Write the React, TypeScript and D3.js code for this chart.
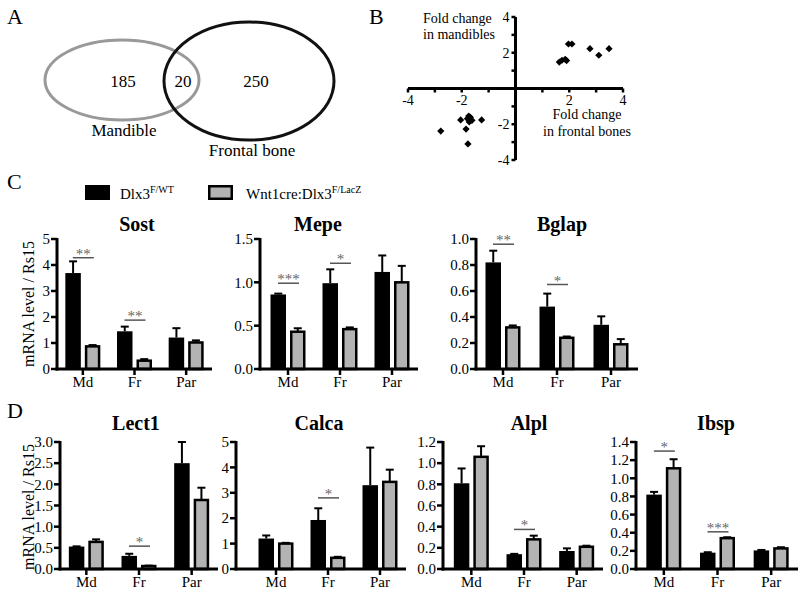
import React from "react";
import * as d3 from "d3";

const groups = ["Md", "Fr", "Par"];

// panel A venn counts
const vennCounts = [185, 20, 250];
const vennLabels = ["Mandible", "Frontal bone"];

// panel B fold changes [frontal, mandible]
const upPoints = [
  [1.63, 1.48], [1.73, 1.58], [1.85, 1.63], [1.9, 1.56], [1.97, 2.49],
  [2.1, 2.49], [2.77, 2.23], [3.1, 1.86], [3.48, 2.23],
];
const downPoints = [
  [-2.78, -2.38], [-2.04, -1.76], [-1.84, -2.27], [-1.77, -3.1], [-1.74, -1.54],
  [-1.79, -1.69], [-1.68, -1.61], [-1.62, -1.78], [-1.72, -1.87], [-1.26, -1.76],
];
const foldTicks = [-4, -2, 2, 4];

// panel C
const sostWT = [3.69, 1.45, 1.21];
const sostWTErr = [0.45, 0.18, 0.36];
const sostKO = [0.87, 0.32, 1.02];
const sostKOErr = [0.05, 0.06, 0.08];
const sostSig = [{ g: "Md", y: 4.28, s: "**" }, { g: "Fr", y: 1.88, s: "**" }];

const mepeWT = [0.86, 0.99, 1.12];
const mepeWTErr = [0.01, 0.16, 0.19];
const mepeKO = [0.43, 0.46, 1.0];
const mepeKOErr = [0.04, 0.02, 0.19];
const mepeSig = [{ g: "Md", y: 0.99, s: "***" }, { g: "Fr", y: 1.22, s: "*" }];

const bglapWT = [0.82, 0.48, 0.34];
const bglapWTErr = [0.09, 0.1, 0.065];
const bglapKO = [0.32, 0.24, 0.19];
const bglapKOErr = [0.015, 0.01, 0.04];
const bglapSig = [{ g: "Md", y: 0.96, s: "**" }, { g: "Fr", y: 0.65, s: "*" }];

// panel D
const lect1WT = [0.53, 0.31, 2.5];
const lect1WTErr = [0.005, 0.05, 0.5];
const lect1KO = [0.64, 0.07, 1.63];
const lect1KOErr = [0.06, 0.01, 0.29];
const lect1Sig = [{ g: "Fr", y: 0.54, s: "*" }];

const calcaWT = [1.2, 1.93, 3.3];
const calcaWTErr = [0.12, 0.46, 1.48];
const calcaKO = [1.0, 0.44, 3.43];
const calcaKOErr = [0.03, 0.04, 0.48];
const calcaSig = [{ g: "Fr", y: 2.8, s: "*" }];

const alplWT = [0.81, 0.14, 0.17];
const alplWTErr = [0.14, 0.003, 0.025];
const alplKO = [1.06, 0.28, 0.21];
const alplKOErr = [0.1, 0.035, 0.01];
const alplSig = [{ g: "Fr", y: 0.374, s: "*" }];

const ibspWT = [0.82, 0.18, 0.205];
const ibspWTErr = [0.03, 0.005, 0.005];
const ibspKO = [1.11, 0.34, 0.227];
const ibspKOErr = [0.1, 0.01, 0.013];
const ibspSig = [{ g: "Md", y: 1.3, s: "*" }, { g: "Fr", y: 0.41, s: "***" }];

const FONT = "'Liberation Serif', 'Times New Roman', serif";
const GRAY = "#b3b3b3";

const panels = [
  { title: "Sost", wt: sostWT, wtErr: sostWTErr, ko: sostKO, koErr: sostKOErr, sig: sostSig,
    max: 5, step: 1, fmt: d3.format("d"), left: 57, bandLeft: 57, right: 212, top: 239, bottom: 369, titleX: 137, titleY: 231 },
  { title: "Mepe", wt: mepeWT, wtErr: mepeWTErr, ko: mepeKO, koErr: mepeKOErr, sig: mepeSig,
    max: 1.5, step: 0.5, fmt: d3.format(".1f"), left: 260, bandLeft: 262, right: 418, top: 239, bottom: 369, titleX: 318, titleY: 231 },
  { title: "Bglap", wt: bglapWT, wtErr: bglapWTErr, ko: bglapKO, koErr: bglapKOErr, sig: bglapSig,
    max: 1.0, step: 0.2, fmt: d3.format(".1f"), left: 476, bandLeft: 476, right: 638, top: 239, bottom: 369, titleX: 562, titleY: 231 },
  { title: "Lect1", wt: lect1WT, wtErr: lect1WTErr, ko: lect1KO, koErr: lect1KOErr, sig: lect1Sig,
    max: 3.0, step: 0.5, fmt: d3.format(".1f"), left: 60, bandLeft: 60, right: 218, top: 442, bottom: 569, titleX: 136, titleY: 430 },
  { title: "Calca", wt: calcaWT, wtErr: calcaWTErr, ko: calcaKO, koErr: calcaKOErr, sig: calcaSig,
    max: 5, step: 1, fmt: d3.format("d"), left: 236, bandLeft: 250, right: 406, top: 442, bottom: 569, titleX: 319, titleY: 430 },
  { title: "Alpl", wt: alplWT, wtErr: alplWTErr, ko: alplKO, koErr: alplKOErr, sig: alplSig,
    max: 1.2, step: 0.2, fmt: d3.format(".1f"), left: 443, bandLeft: 445, right: 603, top: 442, bottom: 569, titleX: 529, titleY: 430 },
  { title: "Ibsp", wt: ibspWT, wtErr: ibspWTErr, ko: ibspKO, koErr: ibspKOErr, sig: ibspSig,
    max: 1.4, step: 0.2, fmt: d3.format(".1f"), left: 636, bandLeft: 637, right: 798, top: 442, bottom: 569, titleX: 716, titleY: 430 },
];

const BarPanel = ({ p }: any) => {
  const x = d3.scaleBand().domain(groups).range([p.bandLeft, p.right]);
  const y = d3.scaleLinear().domain([0, p.max]).range([p.bottom, p.top]);
  const ticks = d3.range(0, p.max + p.step / 2, p.step);
  const bw = 15.5;
  const gap = 4;
  const sw = 2.5;
  const c = (g: string) => (x(g) as number) + x.bandwidth() / 2;

  const errBar = (cx: number, v: number, e: number, key: string) => (
    <g key={key} stroke="#000" strokeWidth={2}>
      <line x1={cx} x2={cx} y1={y(v)} y2={y(v + e)} />
      <line x1={cx - 4} x2={cx + 4} y1={y(v + e)} y2={y(v + e)} />
    </g>
  );

  return (
    <g fontFamily={FONT}>
      <text x={p.titleX} y={p.titleY} textAnchor="middle" fontWeight="bold" fontSize={20}>{p.title}</text>
      {groups.map((g, i) => {
        const cx = c(g);
        const bx = cx - gap / 2 - bw;
        const gx = cx + gap / 2;
        return (
          <g key={g}>
            {errBar(bx + bw / 2, p.wt[i], p.wtErr[i], "we")}
            {errBar(gx + bw / 2, p.ko[i], p.koErr[i], "ke")}
            <rect x={bx} y={y(p.wt[i])} width={bw} height={y(0) - y(p.wt[i])} fill="#000" />
            <rect x={gx + sw / 2} y={y(p.ko[i])} width={bw - sw} height={y(0) - y(p.ko[i])}
              fill={GRAY} stroke="#000" strokeWidth={sw} />
          </g>
        );
      })}
      {p.sig.map((s: any, i: number) => {
        const cx = c(s.g);
        return (
          <g key={i} fill="#666" stroke="#555">
            <line x1={cx - 10} x2={cx + 11} y1={y(s.y)} y2={y(s.y)} strokeWidth={1.5} />
            <text x={cx + 0.5} y={y(s.y) + 1} textAnchor="middle" fontSize={15} stroke="none">{s.s}</text>
          </g>
        );
      })}
      <line x1={p.left} x2={p.left} y1={y(p.max) - 1} y2={y(0) + 1.5} stroke="#000" strokeWidth={3} />
      <line x1={p.left - 1.5} x2={p.right} y1={y(0)} y2={y(0)} stroke="#000" strokeWidth={3} />
      {ticks.map((t) => (
        <g key={t}>
          <line x1={p.left - 6} x2={p.left} y1={y(t)} y2={y(t)} stroke="#000" strokeWidth={2.5} />
          <text x={p.left - 7} y={y(t)} dy="0.35em" textAnchor="end" fontSize={15}>{p.fmt(t)}</text>
        </g>
      ))}
      {groups.map((g) => (
        <g key={g}>
          <line x1={c(g)} x2={c(g)} y1={y(0)} y2={y(0) + 6} stroke="#000" strokeWidth={2.5} />
          <text x={c(g)} y={y(0) + 18} textAnchor="middle" fontSize={15}>{g}</text>
        </g>
      ))}
    </g>
  );
};

const Scatter = () => {
  const x = d3.scaleLinear().domain([-4, 4]).range([408, 623]);
  const y = d3.scaleLinear().domain([-4, 4]).range([160, 17]);
  const minor = d3.range(-4, 5).filter((d) => d !== 0);
  const diamond = d3.symbol(d3.symbolSquare, 26)();
  const pts = [...upPoints, ...downPoints];
  return (
    <g fontFamily={FONT}>
      <line x1={x(-4)} x2={x(4)} y1={y(0)} y2={y(0)} stroke="#000" strokeWidth={3} />
      <line x1={x(0)} x2={x(0)} y1={y(4)} y2={y(-4)} stroke="#000" strokeWidth={3} />
      {minor.map((t) => (
        <g key={t}>
          <line x1={x(t)} x2={x(t)} y1={y(0)} y2={y(0) + 4} stroke="#000" strokeWidth={2.5} />
          <line x1={x(0) - 4} x2={x(0)} y1={y(t)} y2={y(t)} stroke="#000" strokeWidth={2.5} />
        </g>
      ))}
      {foldTicks.map((t) => (
        <g key={t} fontSize={14}>
          <text x={x(t)} y={y(0) + 16} textAnchor="middle">{t < 0 ? `-${-t}` : t}</text>
          <text x={x(0) - 6} y={y(t)} dy="0.35em" textAnchor="end">{t < 0 ? `-${-t}` : t}</text>
        </g>
      ))}
      {pts.map((d, i) => (
        <path key={i} d={diamond as string} transform={`translate(${x(d[0])},${y(d[1])}) rotate(45)`} fill="#000" />
      ))}
      <text x={423} y={23} fontSize={14}>Fold change</text>
      <text x={423} y={39} fontSize={14}>in mandibles</text>
      <text x={587} y={119} fontSize={14} textAnchor="middle">Fold change</text>
      <text x={587} y={136} fontSize={14} textAnchor="middle">in frontal bones</text>
    </g>
  );
};

const Venn = () => (
  <g fontFamily={FONT} fontSize={17}>
    <ellipse cx={122} cy={80} rx={77} ry={40} fill="none" stroke="#999" strokeWidth={3} />
    <ellipse cx={249} cy={81} rx={85} ry={59} fill="none" stroke="#111" strokeWidth={3} />
    <text x={123} y={87} textAnchor="middle">{vennCounts[0]}</text>
    <text x={183} y={87} textAnchor="middle">{vennCounts[1]}</text>
    <text x={256} y={87} textAnchor="middle">{vennCounts[2]}</text>
    <text x={124} y={136} textAnchor="middle">{vennLabels[0]}</text>
    <text x={252} y={156} textAnchor="middle">{vennLabels[1]}</text>
  </g>
);

const Legend = () => (
  <g fontFamily={FONT} fontSize={15}>
    <rect x={85} y={185} width={25} height={15} fill="#000" />
    <text x={120} y={199}>Dlx3<tspan dy={-6} fontSize={10}>F/WT</tspan></text>
    <rect x={209.25} y={186.25} width={22.5} height={12.5} fill={GRAY} stroke="#000" strokeWidth={2.5} />
    <text x={246} y={199}>Wnt1cre:Dlx3<tspan dy={-6} fontSize={10}>F/LacZ</tspan></text>
  </g>
);

const App = () => (
  <svg width={800} height={596} style={{ position: "absolute", left: 0, top: 0, background: "#fff" }}>
    <g fontFamily={FONT} fontSize={22}>
      <text x={7} y={24}>A</text>
      <text x={369} y={24}>B</text>
      <text x={7} y={189}>C</text>
      <text x={7} y={418}>D</text>
    </g>
    <Venn />
    <Scatter />
    <Legend />
    {panels.map((p) => (
      <BarPanel key={p.title} p={p} />
    ))}
    <text transform="translate(34,304) rotate(-90)" textAnchor="middle" fontFamily={FONT} fontSize={16}>mRNA level / Rs15</text>
    <text transform="translate(34,507) rotate(-90)" textAnchor="middle" fontFamily={FONT} fontSize={16}>mRNA level / Rs15</text>
  </svg>
);

export default App;
